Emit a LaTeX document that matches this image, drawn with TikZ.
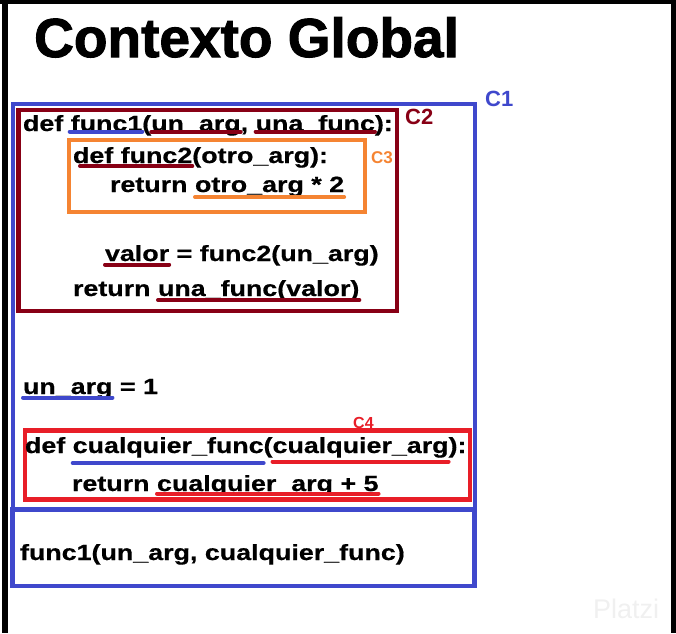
\documentclass[tikz,border=0pt]{standalone}
\usepackage{fontspec}
\setmainfont{Liberation Sans}
\newfontfamily\titlefont{Liberation Sans Bold}[FakeBold=1.8]
\newfontfamily\codefont{Liberation Sans Bold}[FakeStretch=1.22,FakeBold=0.6]
\newfontfamily\labfont{Liberation Sans Bold}
\newfontfamily\wmfont{Liberation Sans}
\definecolor{cblue}{RGB}{63,72,204}
\definecolor{cdred}{RGB}{136,0,21}
\definecolor{corange}{RGB}{245,132,50}
\definecolor{cred}{RGB}{232,30,40}
\tikzset{
  code/.style={anchor=base west, inner sep=0pt, outer sep=0pt, font=\codefont\fontsize{22}{26}\selectfont},
  box/.style={line width=4.5pt},
  ul/.style={line width=4pt, line cap=round},
  lab/.style={anchor=base west, inner sep=0pt, font=\labfont\fontsize{#1}{#1}\selectfont},
}
\begin{document}
\begin{tikzpicture}[x=1pt,y=-1pt]
\useasboundingbox (0,0) rectangle (676,633);
% frame
\fill[black] (0,0) rectangle (676,4.3);
\fill[black] (2,0) rectangle (7.5,633);
\fill[black] (670.5,0) rectangle (676,633);
% watermark
\node[anchor=base west, inner sep=0pt, text=black!6, font=\wmfont\fontsize{27}{27}\selectfont] (wm) at (593,618) {Platzi};
% title
\node[anchor=base west, inner sep=0pt, font=\titlefont\fontsize{55}{60}\selectfont] (title) at (34,57) {Contexto Global};
% boxes
\draw[box, cblue] (13,104) rectangle (475,509.5);
\draw[box, cblue] (12.5,509.5) rectangle (474.5,586);
\draw[box, cdred] (18.5,110) rectangle (397,311);
\draw[box, corange] (69,140) rectangle (365,212);
\draw[box, cred] (25,430.5) rectangle (470,499.5);
% labels
\node[lab=22, text=cblue] (l1) at (485,106) {C1};
\node[lab=22, text=cdred] (l2) at (405,124) {C2};
\node[lab=17, text=corange] (l3) at (371,163) {C3};
\node[lab=16, text=cred] (l4) at (353,428) {C4};
% line 1
\node[code] (a1) at (23,131) {def\ \null};
\node[code] (a2) at (a1.base east) {func1};
\node[code] (a3) at (a2.base east) {(};
\node[code] (a4) at (a3.base east) {un\_arg};
\node[code] (a5) at (a4.base east) {,\ \null};
\node[code] (a6) at (a5.base east) {una\_func};
\node[code] (a7) at (a6.base east) {):};
\draw[ul, cblue] ([xshift=-1pt,yshift=-0.5pt]a2.base west) -- ([yshift=-0.5pt]a2.base east);
\draw[ul, cdred] ([yshift=-1pt]a4.base west) -- ([yshift=-1pt]a4.base east);
\draw[ul, cdred] ([yshift=-0.5pt]a6.base west) -- ([yshift=-0.5pt]a6.base east);
% line 2
\node[code] (b1) at (73,163) {def func2};
\node[code] (b2) at (b1.base east) {(otro\_arg):};
\draw[ul, cdred] ([xshift=7pt,yshift=-3pt]b1.base west) -- ([yshift=-3pt]b1.base east);
% line 3
\node[code] (c1) at (110,192) {return\ \null};
\node[code] (c2) at (c1.base east) {otro\_arg * 2};
\draw[ul, corange] ([yshift=-5pt]c2.base west) -- ([yshift=-5pt]c2.base east);
% line 4
\node[code] (d1) at (105,261) {valor};
\node[code] (d2) at (d1.base east) {\ = func2(un\_arg)};
\draw[ul, cdred] ([yshift=-3.5pt]d1.base west) -- ([yshift=-3.5pt]d1.base east);
% line 5
\node[code] (e1) at (73,296) {return\ \null};
\node[code] (e2) at (e1.base east) {una\_func(valor)};
\draw[ul, cdred] ([yshift=-4pt]e2.base west) -- ([yshift=-4pt]e2.base east);
% line 6
\node[code] (f1) at (23,394) {un\_arg};
\node[code] (f2) at (f1.base east) {\ = 1};
\draw[ul, cblue] ([yshift=-3.5pt]f1.base west) -- ([yshift=-3.5pt]f1.base east);
% line 7
\node[code] (g1) at (25,453) {def\ \null};
\node[code] (g2) at (g1.base east) {cualquier\_func};
\node[code] (g3) at (g2.base east) {(};
\node[code] (g4) at (g3.base east) {cualquier\_arg};
\node[code] (g5) at (g4.base east) {):};
\draw[ul, cblue] ([yshift=-10pt]g2.base west) -- ([yshift=-10pt]g2.base east);
\draw[ul, cred] ([yshift=-8.5pt]g4.base west) -- ([yshift=-8.5pt]g4.base east);
% line 8
\node[code] (h1) at (72,491) {return\ \null};
\node[code] (h2) at (h1.base east) {cualquier\_arg + 5};
\draw[ul, cred] ([yshift=-2.5pt]h2.base west) -- ([yshift=-2.5pt]h2.base east);
% line 9
\node[code] (i1) at (20,560) {func1(un\_arg, cualquier\_func)};
\end{tikzpicture}
\end{document}
